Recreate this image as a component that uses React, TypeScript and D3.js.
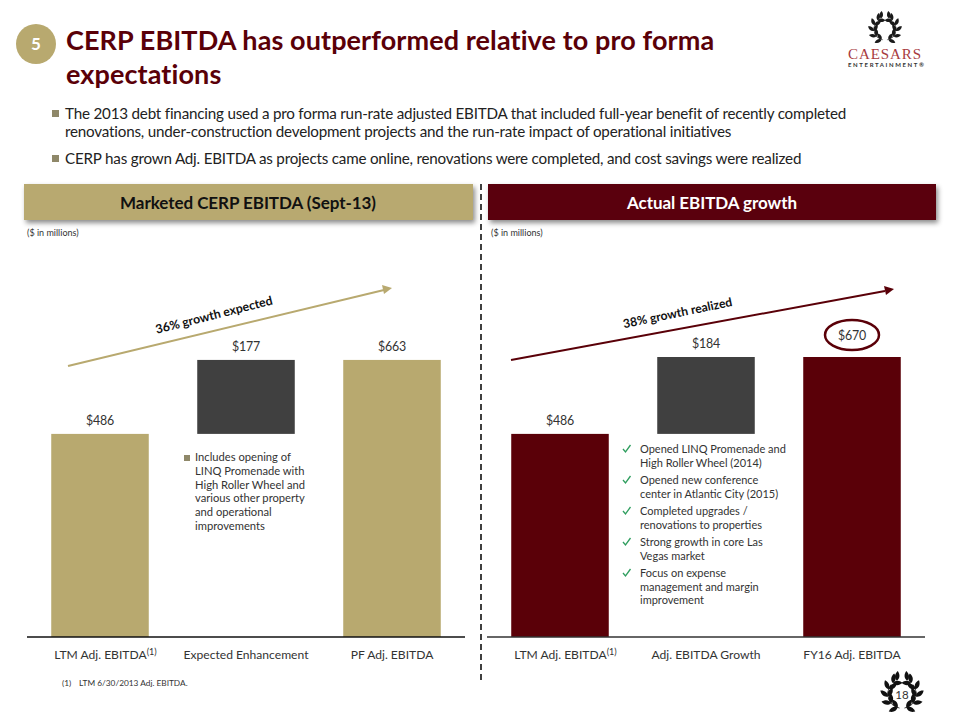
import React from "react";
import * as d3 from "d3";

const TITLE_LINES = ["CERP EBITDA has outperformed relative to pro forma", "expectations"];
const INTRO = [
  ["The 2013 debt financing used a pro forma run-rate adjusted EBITDA that included full-year benefit of recently completed", "renovations, under-construction development projects and the run-rate impact of operational initiatives"],
  ["CERP has grown Adj. EBITDA as projects came online, renovations were completed, and cost savings were realized"],
];
const leftCategories = ["LTM Adj. EBITDA", "Expected Enhancement", "PF Adj. EBITDA"];
const leftBases = [0, 486, 0];
const leftValues = [486, 177, 663];
const rightCategories = ["LTM Adj. EBITDA", "Adj. EBITDA Growth", "FY16 Adj. EBITDA"];
const rightBases = [0, 486, 0];
const rightValues = [486, 184, 670];
const leftNote = ["Includes opening of", "LINQ Promenade with", "High Roller Wheel and", "various other property", "and operational", "improvements"];
const rightNotes = [
  ["Opened LINQ Promenade and", "High Roller Wheel (2014)"],
  ["Opened new conference", "center in Atlantic City (2015)"],
  ["Completed upgrades /", "renovations to properties"],
  ["Strong growth in core Las", "Vegas market"],
  ["Focus on expense", "management and margin", "improvement"],
];
const wreathAngles = [72, 40, 10, -20, -50];

const GOLD = "#b8a96f";
const MAROON = "#5a0008";
const DARK = "#404040";
const FONT = "Lato, 'Open Sans', sans-serif";
const y = d3.scaleLinear().domain([0, 670]).range([637, 357]);

function Panel({ x0, cats, bases, values, color, axisColor }: any) {
  const x = d3.scaleBand<string>().domain(cats.map((_: string, i: number) => String(i))).range([x0, x0 + 438]).paddingInner(0.332).paddingOuter(0.166);
  return (
    <g>
      {values.map((v: number, i: number) => (
        <rect key={i} x={x(String(i))} width={x.bandwidth()} y={y(bases[i] + v)} height={y(bases[i]) - y(bases[i] + v)} fill={i === 1 ? DARK : color} />
      ))}
      <line x1={x0} x2={x0 + 438} y1={637} y2={637} stroke={axisColor} strokeWidth={1.6} />
      {values.map((v: number, i: number) => {
        const cx = x(String(i))! + x.bandwidth() / 2;
        const isHero = v === 670;
        return <text key={i} x={cx} y={y(bases[i] + v) - (isHero ? 17.5 : 9)} textAnchor="middle" fontSize={12.4} letterSpacing={-0.2} fill="#333">${v}</text>;
      })}
      {cats.map((c: string, i: number) => {
        const cx = x(String(i))! + x.bandwidth() / 2;
        return (
          <text key={c} x={i === 0 ? cx + 5.5 : cx} y={659} textAnchor="middle" fontSize={12.1} fill="#333">
            {c}
            {i === 0 && <tspan dy={-4} fontSize={9}>(1)</tspan>}
          </text>
        );
      })}
    </g>
  );
}

function Laurel({ cx, cy, s, fill }: any) {
  const leaf = "M0,0 C2.5,-3.2 7,-3.2 10.5,0 C7,3.2 2.5,3.2 0,0Z";
  const r = 15.5;
  return (
    <g transform={`translate(${cx},${cy}) scale(${s})`} fill={fill}>
      {[1, -1].map((m) => (
        <g key={m} transform={`scale(${m},1)`}>
          <path d={d3.arc()({ innerRadius: r - 0.4, outerRadius: r + 0.4, startAngle: (-40 * Math.PI) / 180 + Math.PI / 2, endAngle: (80 * Math.PI) / 180 + Math.PI / 2 }) as string} />
          {wreathAngles.map((a) => {
            const t = (a * Math.PI) / 180;
            const px = r * Math.cos(t);
            const py = r * Math.sin(t);
            const tangent = a - 90;
            return (
              <g key={a} transform={`translate(${px},${py})`}>
                <path d={leaf} transform={`rotate(${tangent + 42})`} />
                <path d={leaf} transform={`rotate(${tangent - 38})`} />
              </g>
            );
          })}
          <path d={leaf} transform={`translate(${r * Math.cos(-1.2)},${r * Math.sin(-1.2)}) rotate(-95)`} />
        </g>
      ))}
    </g>
  );
}

function Check({ x, y: yy }: any) {
  return <path d={`M${x},${yy} l2.5,3 l5,-7`} fill="none" stroke="#2f9e5f" strokeWidth={1.3} />;
}

export default function App() {
  return (
    <svg width={960} height={720} style={{ position: "absolute", left: 0, top: 0, background: "#fff" }} fontFamily={FONT}>
      <defs>
        <filter id="sh" x="-5%" y="-30%" width="110%" height="170%">
          <feDropShadow dx={2} dy={3} stdDeviation={2.5} floodColor="#000" floodOpacity={0.45} />
        </filter>
      </defs>

      <circle cx={36} cy={44} r={20} fill={GOLD} />
      <text x={36} y={50} textAnchor="middle" fontSize={17} fontWeight={700} fill="#fff">5</text>
      {TITLE_LINES.map((t, i) => (
        <text key={i} x={66} y={50 + i * 34} fontSize={27} fontWeight={700} fill={MAROON} letterSpacing={0.1}>{t}</text>
      ))}

      <Laurel cx={885} cy={29} s={0.72} fill="#1a1a1a" />
      <text x={848} y={58.5} fontFamily="'Liberation Serif', serif" fontSize={15} fill="#a83a40" textLength={73}>CAESARS</text>
      <text x={848} y={67} fontSize={6} fontWeight={700} fill="#333" textLength={76}>ENTERTAINMENT®</text>

      {INTRO.map((lines, i) => {
        const top = i === 0 ? 119 : 164;
        return (
          <g key={i}>
            <rect x={52} y={top - 9} width={7} height={7} fill="#8f8869" />
            {lines.map((l, j) => (
              <text key={j} x={65} y={top + j * 18} fontSize={15.2} fill="#222" letterSpacing={-0.2}>{l}</text>
            ))}
          </g>
        );
      })}

      <rect x={24} y={184} width={449} height={36} fill={GOLD} filter="url(#sh)" />
      <text x={248} y={209} textAnchor="middle" fontSize={17} fontWeight={700} letterSpacing={-0.05} fill="#111">Marketed CERP EBITDA (Sept-13)</text>
      <rect x={488} y={184} width={448} height={36} fill={MAROON} filter="url(#sh)" />
      <text x={712} y={209} textAnchor="middle" fontSize={17} fontWeight={700} letterSpacing={-0.05} fill="#fff">Actual EBITDA growth</text>

      <line x1={481} x2={481} y1={184} y2={682} stroke="#111" strokeWidth={1.6} strokeDasharray="6 4" />

      <text x={27} y={236} fontSize={9} fill="#333">($ in millions)</text>
      <text x={491} y={236} fontSize={9} fill="#333">($ in millions)</text>

      <Panel x0={27} cats={leftCategories} bases={leftBases} values={leftValues} color={GOLD} axisColor="#111" />
      <Panel x0={487} cats={rightCategories} bases={rightBases} values={rightValues} color={MAROON} axisColor="#333" />

      <line x1={68} y1={366} x2={384} y2={290} stroke={GOLD} strokeWidth={2} />
      <path d="M392,288 L382,285 L384,294Z" fill={GOLD} />
      <text transform="translate(215,319) rotate(-14.2)" textAnchor="middle" fontSize={12.3} fontWeight={700} fill="#111">36% growth expected</text>

      <line x1={511} y1={360} x2={885} y2={291} stroke={MAROON} strokeWidth={2} />
      <path d="M894,289 L884,286 L886,295Z" fill={MAROON} />
      <text transform="translate(678.5,317) rotate(-11.6)" textAnchor="middle" fontSize={12.2} fontWeight={700} fill="#111">38% growth realized</text>

      <ellipse cx={852} cy={335} rx={27} ry={15} fill="none" stroke={MAROON} strokeWidth={2.5} />

      <rect x={184} y={455} width={6} height={6} fill="#8f8869" />
      {leftNote.map((l, i) => (
        <text key={i} x={195} y={461 + i * 13.8} fontSize={11.2} fill="#333">{l}</text>
      ))}

      {rightNotes.map((n, i) => {
        const top = 453 + i * 31;
        return (
          <g key={i}>
            <Check x={623} y={top - 4} />
            {n.map((l, j) => (
              <text key={j} x={640} y={top + j * 13.6} fontSize={11} fill="#333">{l}</text>
            ))}
          </g>
        );
      })}

      <text x={62} y={686} fontSize={8.3} fill="#333">(1)</text>
      <text x={79} y={686} fontSize={8.3} fill="#333">LTM 6/30/2013 Adj. EBITDA.</text>

      <Laurel cx={902} cy={694} s={0.92} fill="#111" />
      <text x={902} y={699} textAnchor="middle" fontSize={11.5} fill="#333">18</text>
    </svg>
  );
}
